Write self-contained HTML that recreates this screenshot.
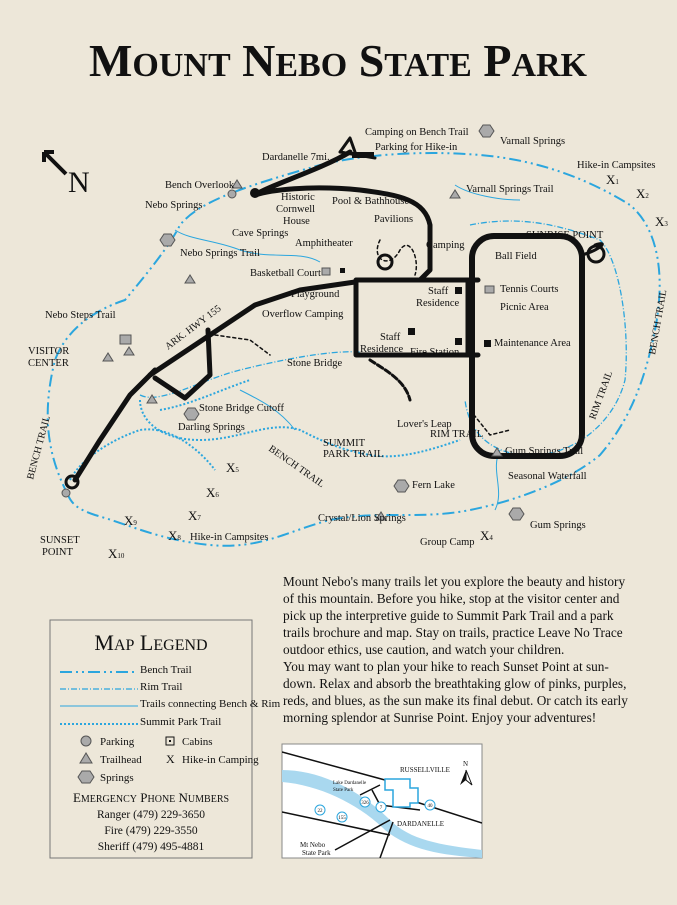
<!DOCTYPE html>
<html><head><meta charset="utf-8"><style>
body{margin:0;background:#ede7d9;}
svg{display:block}
text{font-family:"Liberation Serif",serif;fill:#111}
.s{font-size:10.5px}
.b{fill:none;stroke:#111;stroke-linecap:round;stroke-linejoin:round}
.bt{fill:none;stroke:#2ba6de;stroke-width:2;stroke-dasharray:12 4 2 4 2 4}
.rt{fill:none;stroke:#2ba6de;stroke-width:1.3;stroke-dasharray:6 2 1 2}
.ct{fill:none;stroke:#2ba6de;stroke-width:1}
.st{fill:none;stroke:#2ba6de;stroke-width:2;stroke-dasharray:2 2}
</style></head><body>
<svg width="677" height="905" viewBox="0 0 677 905" xmlns="http://www.w3.org/2000/svg">
<rect width="677" height="905" fill="#ede7d9"/>
<text x="338" y="76" text-anchor="middle" font-size="46" font-weight="bold">M<tspan font-size="34">OUNT</tspan> N<tspan font-size="34">EBO</tspan> S<tspan font-size="34">TATE</tspan> P<tspan font-size="34">ARK</tspan></text>
<!-- north arrow -->
<path d="M44 152 L66 174 M44 152 L44 162 M44 152 L54 152" stroke="#111" stroke-width="4" fill="none"/>
<text x="68" y="192" font-family="Liberation Sans" font-size="30">N</text>
<!-- Bench trail -->
<path class="bt" d="M68 495 C50 460 40 420 55 360 C70 320 110 305 125 300 C150 270 170 245 180 225 C200 200 250 185 320 165 C360 155 420 150 480 155 C540 160 590 180 630 205 C660 230 665 280 655 330 C645 380 630 420 600 455 C570 480 520 500 470 510 C420 520 380 510 330 520 C290 530 260 550 210 545 C160 540 130 525 95 515 C80 510 72 505 68 495"/>
<!-- Rim trail -->
<path class="rt" d="M470 225 C520 215 560 225 600 240 C620 260 630 330 625 380 C615 420 580 450 540 455 C500 458 470 440 465 400"/>
<path class="rt" d="M140 395 C160 405 200 380 240 370 C280 360 330 350 360 352"/>
<!-- connecting trails -->
<path class="ct" d="M175 230 C190 240 215 240 240 250 C270 260 300 250 320 262"/>
<path class="ct" d="M500 450 C490 470 505 490 495 510"/>
<path class="ct" d="M240 390 C260 400 280 410 295 430"/>
<path class="ct" d="M455 185 C470 195 500 200 520 200"/>
<!-- Summit park trail -->
<path class="st" d="M70 480 C80 460 110 440 140 430 C170 425 200 450 215 470 M140 400 C140 420 160 440 200 440 C240 440 270 420 300 430 C320 440 340 450 370 455 C400 460 430 450 460 440 M160 410 C190 405 220 390 250 380"/>
<!-- Roads -->
<path class="b" stroke-width="5" d="M75 480 L100 440 L130 395 L150 375 L210 335 L255 305 L300 290 L355 282"/>
<path class="b" stroke-width="5" d="M150 375 L155 370 M155 378 L185 398 L210 375 L208 330"/>
<path class="b" stroke-width="5" d="M255 195 C270 185 320 170 350 152 M255 195 C270 190 310 185 360 190 C400 195 425 200 430 225 L430 270 L420 280"/>
<rect x="356" y="280" width="112" height="75" class="b" stroke-width="5"/>
<path class="b" stroke-width="5" d="M468 280 L478 280 M468 355 L478 355"/>
<rect x="472" y="236" width="110" height="220" rx="22" class="b" stroke-width="6"/>
<path class="b" stroke-width="3" d="M582 255 C600 250 610 240 595 245"/>
<circle cx="596" cy="254" r="8" class="b" stroke-width="3"/>
<circle cx="72" cy="482" r="6" class="b" stroke-width="3"/>
<path class="b" stroke-width="3" d="M340 152 L375 158 M340 152 L350 138 L355 152"/>
<rect x="352" y="152" width="22" height="6" fill="#111"/>
<circle cx="255" cy="193" r="5" fill="#111"/>
<path class="b" stroke-width="3" stroke-dasharray="6 3" d="M370 360 C385 370 405 380 410 400"/>
<path class="b" stroke-width="1.5" stroke-dasharray="3 3" d="M215 335 L250 340 L270 355 M470 410 L490 435 L510 430 M380 240 C370 260 390 270 400 250 C410 235 420 260 415 275"/>
<circle cx="385" cy="262" r="7" class="b" stroke-width="3"/>
<!-- buildings -->
<g fill="#111"><rect x="455" y="287" width="7" height="7"/><rect x="408" y="328" width="7" height="7"/><rect x="455" y="338" width="7" height="7"/><rect x="484" y="340" width="7" height="7"/><rect x="340" y="268" width="5" height="5"/></g>
<g fill="#aaa" stroke="#555"><circle cx="232" cy="194" r="4"/><circle cx="66" cy="493" r="4"/><rect x="120" y="335" width="11" height="9"/><rect x="322" y="268" width="8" height="7"/><rect x="485" y="286" width="9" height="7"/>
<polygon points="129,347 124,355 134,355"/><polygon points="152,395 147,403 157,403"/><polygon points="190,275 185,283 195,283"/><polygon points="455,190 450,198 460,198"/><polygon points="497,448 492,456 502,456"/><polygon points="381,512 376,520 386,520"/><polygon points="237,180 232,188 242,188"/><polygon points="108,353 103,361 113,361"/>
<polygon points="483,125 490,125 494,131 490,137 483,137 479,131"/><polygon points="188,408 195,408 199,414 195,420 188,420 184,414"/><polygon points="398,480 405,480 409,486 405,492 398,492 394,486"/><polygon points="513,508 520,508 524,514 520,520 513,520 509,514"/><polygon points="164,234 171,234 175,240 171,246 164,246 160,240"/></g>
<!-- labels -->
<g class="s">
<text x="365" y="135">Camping on Bench Trail</text><text x="500" y="144">Varnall Springs</text>
<text x="375" y="150">Parking for Hike-in</text><text x="262" y="160">Dardanelle 7mi.</text>
<text x="577" y="168">Hike-in Campsites</text><text x="165" y="188">Bench Overlook</text>
<text x="466" y="192">Varnall Springs Trail</text><text x="145" y="208">Nebo Springs</text>
<text x="281" y="200">Historic</text><text x="276" y="212">Cornwell</text><text x="283" y="224">House</text>
<text x="332" y="204">Pool &amp; Bathhouse</text><text x="374" y="222">Pavilions</text>
<text x="232" y="236">Cave Springs</text><text x="295" y="246">Amphitheater</text><text x="426" y="248">Camping</text>
<text x="180" y="256">Nebo Springs Trail</text><text x="526" y="238">SUNRISE POINT</text>
<text x="495" y="259">Ball Field</text><text x="250" y="276">Basketball Court</text>
<text x="291" y="297">Playground</text><text x="262" y="317">Overflow Camping</text>
<text x="428" y="294">Staff</text><text x="416" y="306">Residence</text>
<text x="500" y="292">Tennis Courts</text><text x="500" y="310">Picnic Area</text>
<text x="45" y="318">Nebo Steps Trail</text>
<text x="380" y="340">Staff</text><text x="360" y="352">Residence</text><text x="410" y="355">Fire Station</text>
<text x="494" y="346">Maintenance Area</text>
<text x="28" y="354">VISITOR</text><text x="28" y="366">CENTER</text>
<text x="287" y="366">Stone Bridge</text>
<text x="199" y="411">Stone Bridge Cutoff</text><text x="178" y="430">Darling Springs</text>
<text x="397" y="427">Lover's Leap</text><text x="323" y="446">SUMMIT</text><text x="323" y="457">PARK TRAIL</text>
<text x="430" y="437">RIM TRAIL</text><text x="505" y="454">Gum Springs Trail</text>
<text x="508" y="479">Seasonal Waterfall</text><text x="412" y="488">Fern Lake</text>
<text x="318" y="521">Crystal/Lion Springs</text><text x="530" y="528">Gum Springs</text>
<text x="190" y="540">Hike-in Campsites</text><text x="420" y="545">Group Camp</text>
<text x="40" y="543">SUNSET</text><text x="42" y="555">POINT</text>
</g>
<text transform="translate(168,350) rotate(-37)" font-size="10">ARK. HWY 155</text>
<text transform="translate(33,480) rotate(-75)" font-size="10">BENCH TRAIL</text>
<text transform="translate(268,450) rotate(35)" font-size="10">BENCH TRAIL</text>
<text transform="translate(655,355) rotate(-80)" font-size="10">BENCH TRAIL</text>
<text transform="translate(595,420) rotate(-70)" font-size="10">RIM TRAIL</text>
<g font-size="13"><text x="606" y="184">X<tspan font-size="7">1</tspan></text><text x="636" y="198">X<tspan font-size="7">2</tspan></text><text x="655" y="226">X<tspan font-size="7">3</tspan></text><text x="480" y="540">X<tspan font-size="7">4</tspan></text><text x="226" y="472">X<tspan font-size="7">5</tspan></text><text x="206" y="497">X<tspan font-size="7">6</tspan></text><text x="188" y="520">X<tspan font-size="7">7</tspan></text><text x="168" y="540">X<tspan font-size="7">8</tspan></text><text x="124" y="525">X<tspan font-size="7">9</tspan></text><text x="108" y="558">X<tspan font-size="7">10</tspan></text></g>
<!-- paragraph -->
<g font-size="13.3">
<text x="283" y="586">Mount Nebo's many trails let you explore the beauty and history</text>
<text x="283" y="603">of this mountain. Before you hike, stop at the visitor center and</text>
<text x="283" y="620">pick up the interpretive guide to Summit Park Trail and a park</text>
<text x="283" y="637">trails brochure and map.  Stay on trails, practice Leave No Trace</text>
<text x="283" y="654">outdoor ethics, use caution, and watch your children.</text>
<text x="283" y="671">You may want to plan your hike to reach Sunset Point at sun-</text>
<text x="283" y="688">down. Relax and absorb the breathtaking glow of pinks, purples,</text>
<text x="283" y="705">reds, and blues, as the sun make its final debut. Or catch its early</text>
<text x="283" y="722">morning splendor at Sunrise Point. Enjoy your adventures!</text>
</g>
<!-- legend -->
<rect x="50" y="620" width="202" height="238" fill="none" stroke="#777"/>
<text x="151" y="650" text-anchor="middle" font-size="22">M<tspan font-size="16">AP</tspan> L<tspan font-size="16">EGEND</tspan></text>
<g font-size="11"><text x="140" y="673">Bench Trail</text><text x="140" y="690">Rim Trail</text><text x="140" y="707">Trails connecting Bench &amp; Rim</text><text x="140" y="725">Summit Park Trail</text></g>
<path class="bt" d="M60 672 L138 672"/><path class="rt" d="M60 689 L138 689"/><path class="ct" d="M60 706 L138 706"/><path class="st" d="M60 724 L138 724"/>
<g font-size="11"><circle cx="86" cy="741" r="5" fill="#aaa" stroke="#555"/><text x="100" y="745">Parking</text>
<polygon points="86,753 80,763 92,763" fill="#aaa" stroke="#555"/><text x="100" y="763">Trailhead</text>
<polygon points="82,771 90,771 94,777 90,783 82,783 78,777" fill="#aaa" stroke="#555"/><text x="100" y="781">Springs</text>
<rect x="166" y="737" width="8" height="8" fill="none" stroke="#111"/><rect x="169" y="740" width="2" height="2" fill="#111"/><text x="182" y="745">Cabins</text>
<text x="166" y="763" font-size="12">X</text><text x="182" y="763">Hike-in Camping</text></g>
<text x="151" y="802" text-anchor="middle" font-size="13">E<tspan font-size="10">MERGENCY</tspan> P<tspan font-size="10">HONE</tspan> N<tspan font-size="10">UMBERS</tspan></text>
<g font-size="11.5" text-anchor="middle"><text x="151" y="818">Ranger (479) 229-3650</text><text x="151" y="834">Fire (479) 229-3550</text><text x="151" y="850">Sheriff (479) 495-4881</text></g>
<!-- inset map -->
<rect x="282" y="744" width="200" height="114" fill="#fff" stroke="#888"/>
<g clip-path="url(#c)">
<clipPath id="c"><rect x="282" y="744" width="200" height="114"/></clipPath>
<path d="M282 770 C320 770 360 790 390 820 C410 840 440 845 482 850 L482 858 C440 855 410 850 385 830 C360 805 320 785 282 782 Z" fill="#a9d8ef"/>
<path d="M282 752 L385 780 M282 812 L390 835 M335 850 L390 820 M380 858 L393 822 M410 800 L482 823 M380 785 L360 795 M372 790 L380 805 L420 810" stroke="#111" stroke-width="1.5" fill="none"/>
<path d="M385 779 L410 779 L410 788 L418 788 L418 803 L410 803 L410 807 L393 807 L393 790 L385 790 Z" fill="#fff" stroke="#2ba6de" stroke-width="1.5"/>
</g>
<g font-family="Liberation Sans" font-size="7"><text x="400" y="772">RUSSELLVILLE</text><text x="397" y="826">DARDANELLE</text><text x="333" y="784" font-size="5">Lake Dardanelle</text><text x="333" y="791" font-size="5">State Park</text><text x="300" y="847">Mt Nebo</text><text x="302" y="855">State Park</text><text x="463" y="766">N</text></g>
<path d="M466 770 L460 785 L466 780 Z" fill="#111"/><path d="M466 770 L472 785 L466 780 Z" fill="none" stroke="#111"/>
<g fill="#fff" stroke="#2ba6de"><circle cx="381" cy="807" r="5"/><circle cx="365" cy="802" r="5"/><circle cx="342" cy="817" r="5"/><circle cx="320" cy="810" r="5"/><circle cx="430" cy="805" r="5"/></g>
<g font-family="Liberation Sans" font-size="5" text-anchor="middle"><text x="381" y="809">7</text><text x="365" y="804">326</text><text x="342" y="819">155</text><text x="320" y="812">22</text><text x="430" y="807">40</text></g>
</svg>
</body></html>
